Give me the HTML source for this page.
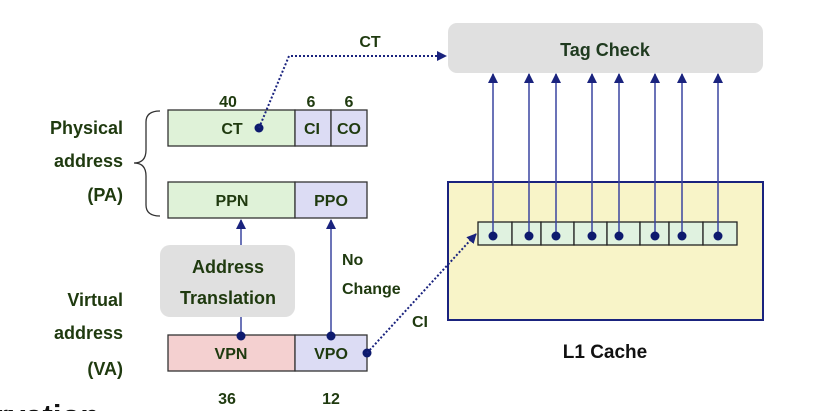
<!DOCTYPE html>
<html><head><meta charset="utf-8"><style>
html,body{margin:0;padding:0;background:#fff;width:823px;height:411px;overflow:hidden}
svg{display:block;overflow:hidden}
svg text{font-family:"Liberation Sans",sans-serif;font-weight:bold}
</style></head><body>
<svg width="823" height="411" viewBox="0 0 823 411" xmlns="http://www.w3.org/2000/svg">
<defs>
<marker id="a" markerWidth="10" markerHeight="10" refX="9" refY="5" orient="auto" markerUnits="userSpaceOnUse"><path d="M0,0 L10,5 L0,10 z" fill="#1a237e"/></marker>
</defs>
<rect x="448" y="23" width="315" height="50" rx="9" fill="#e0e0e0"/>
<text x="605" y="56" font-size="18" text-anchor="middle" fill="#1f3a1f">Tag Check</text>
<rect x="448" y="182" width="315" height="138" fill="#f8f4c8" stroke="#1a237e" stroke-width="2"/>
<text x="605" y="358" font-size="19" text-anchor="middle" fill="#111">L1 Cache</text>
<g fill="#e0f2e0" stroke="#222" stroke-width="1.3">
<rect x="478" y="222" width="34" height="23"/><rect x="512" y="222" width="29" height="23"/><rect x="541" y="222" width="33" height="23"/><rect x="574" y="222" width="33" height="23"/><rect x="607" y="222" width="33" height="23"/><rect x="640" y="222" width="29" height="23"/><rect x="669" y="222" width="34" height="23"/><rect x="703" y="222" width="34" height="23"/>
</g>
<g stroke="#3a45a0" stroke-width="1.5" marker-end="url(#a)">
<line x1="493" y1="236" x2="493" y2="74"/><line x1="529" y1="236" x2="529" y2="74"/><line x1="556" y1="236" x2="556" y2="74"/><line x1="592" y1="236" x2="592" y2="74"/><line x1="619" y1="236" x2="619" y2="74"/><line x1="655" y1="236" x2="655" y2="74"/><line x1="682" y1="236" x2="682" y2="74"/><line x1="718" y1="236" x2="718" y2="74"/>
</g>
<g fill="#0d1a6e">
<circle cx="493" cy="236" r="4.5"/><circle cx="529" cy="236" r="4.5"/><circle cx="556" cy="236" r="4.5"/><circle cx="592" cy="236" r="4.5"/><circle cx="619" cy="236" r="4.5"/><circle cx="655" cy="236" r="4.5"/><circle cx="682" cy="236" r="4.5"/><circle cx="718" cy="236" r="4.5"/>
</g>
<g font-size="18" fill="#1f3a0f" text-anchor="end">
<text x="123" y="134">Physical</text><text x="123" y="167">address</text><text x="123" y="201">(PA)</text>
<text x="123" y="306">Virtual</text><text x="123" y="339">address</text><text x="123" y="375">(VA)</text>
</g>
<path d="M160,111 Q146,111 146,122 L146,150 Q146,163 134,163 Q146,163 146,176 L146,205 Q146,216 160,216" fill="none" stroke="#333" stroke-width="1.3"/>
<g stroke="#333" stroke-width="1.3">
<rect x="168" y="110" width="127" height="36" fill="#dff2d8"/><rect x="295" y="110" width="36" height="36" fill="#dcdcf4"/><rect x="331" y="110" width="36" height="36" fill="#dcdcf4"/>
<rect x="168" y="182" width="127" height="36" fill="#dff2d8"/><rect x="295" y="182" width="72" height="36" fill="#dcdcf4"/>
<rect x="168" y="335" width="127" height="36" fill="#f4d0d0"/><rect x="295" y="335" width="72" height="36" fill="#dcdcf4"/>
</g>
<g font-size="16" fill="#1f3a0f" text-anchor="middle">
<text x="228" y="107">40</text><text x="311" y="107">6</text><text x="349" y="107">6</text>
<text x="232" y="134">CT</text><text x="312" y="134">CI</text><text x="349" y="134">CO</text>
<text x="232" y="206">PPN</text><text x="331" y="206">PPO</text>
<text x="231" y="359">VPN</text><text x="331" y="359">VPO</text>
<text x="227" y="404">36</text><text x="331" y="404">12</text>
<text x="370" y="47">CT</text><text x="420" y="327">CI</text>
<text x="342" y="265" text-anchor="start">No</text><text x="342" y="294" text-anchor="start">Change</text>
</g>
<rect x="160" y="245" width="135" height="72" rx="10" fill="#e0e0e0"/>
<text x="228" y="273" font-size="18" text-anchor="middle" fill="#1f3a0f">Address</text>
<text x="228" y="304" font-size="18" text-anchor="middle" fill="#1f3a0f">Translation</text>
<g stroke="#3a45a0" stroke-width="1.5">
<line x1="241" y1="335" x2="241" y2="317"/>
<line x1="241" y1="245" x2="241" y2="220" marker-end="url(#a)"/>
<line x1="331" y1="336" x2="331" y2="220" marker-end="url(#a)"/>
</g>
<g fill="#0d1a6e"><circle cx="241" cy="336" r="4.5"/><circle cx="331" cy="336" r="4.5"/><circle cx="259" cy="128" r="4.5"/><circle cx="367" cy="353" r="4.5"/></g>
<g fill="none" stroke="#1a237e" stroke-width="2" stroke-dasharray="2,2">
<polyline points="259,128 289,56 446,56" marker-end="url(#a)"/>
<line x1="367" y1="353" x2="476" y2="234" marker-end="url(#a)"/>
</g>
<text x="-4" y="426" font-size="31" fill="#111">rvation</text>
</svg>
</body></html>
